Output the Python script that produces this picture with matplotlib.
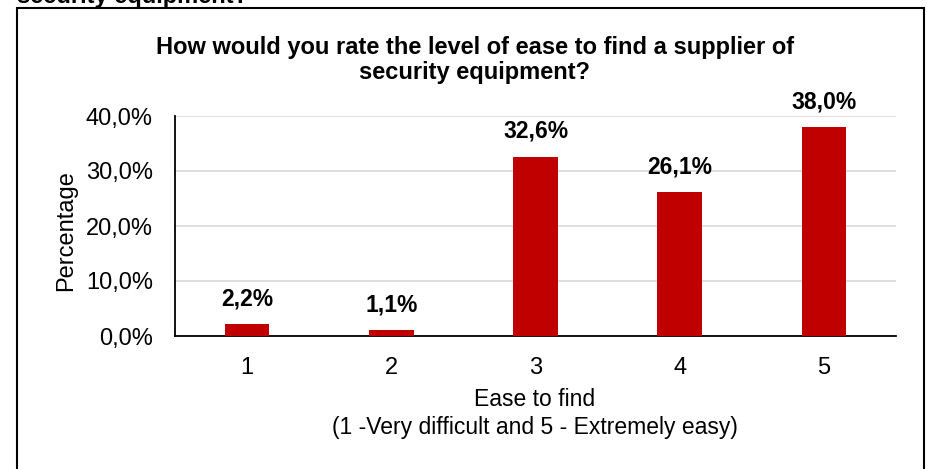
import matplotlib.pyplot as plt
from matplotlib.patches import Rectangle
from matplotlib.ticker import FuncFormatter

plt.rcParams['font.family'] = ['Liberation Sans', 'DejaVu Sans']

categories = ['1', '2', '3', '4', '5']
percentages = [2.2, 1.1, 32.6, 26.1, 38.0]
bar_color = '#C00000'

fig = plt.figure(figsize=(9.28, 4.69), dpi=100)
W, H = 928, 469
ax = fig.add_axes([175 / W, 1 - 336 / H, (896 - 175) / W, (336 - 116) / H])

x = range(len(categories))
ax.bar(x, percentages, width=0.31, color=bar_color, zorder=3)
for xi, v in zip(x, percentages):
    ax.text(xi, v + 2.5, f'{v:.1f}%'.replace('.', ','), ha='center', va='bottom',
            fontsize=16.5, fontweight='bold')

ax.set_xlim(-0.5, len(categories) - 0.5)
ax.set_ylim(0, 40)
ax.set_yticks([0, 10, 20, 30, 40])
ax.yaxis.set_major_formatter(FuncFormatter(lambda v, p: f'{v:.1f}%'.replace('.', ',')))
ax.set_xticks(list(x))
ax.set_xticklabels(categories)
ax.tick_params(axis='both', length=0, labelsize=17)
ax.tick_params(axis='x', pad=15)
ax.tick_params(axis='y', pad=16)
ax.grid(axis='y', color='#d9d9d9', linewidth=1.2, zorder=0)
for s in ['top', 'right']:
    ax.spines[s].set_visible(False)
ax.spines['left'].set_linewidth(1.3)
ax.spines['bottom'].set_linewidth(1.3)

ax.set_ylabel('Percentage', fontsize=17)
ax.yaxis.set_label_coords((77 - 175) / 721, 0.48)
ax.set_xlabel('Ease to find\n(1 -Very difficult and 5 - Extremely easy)', fontsize=16.5,
              linespacing=1.3)
ax.xaxis.set_label_coords((535 - 175) / 721, (336 - 388) / 220)

fig.text(475 / W, 1 - 60 / H,
         'How would you rate the level of ease to find a supplier of\nsecurity equipment?',
         ha='center', va='center', fontsize=17, fontweight='bold', linespacing=1.15)

# clipped caption text at the top edge
fig.text(17 / W, 1 - 3 / H, 'security equipment?', ha='left', va='baseline',
         fontsize=17, fontweight='bold')

fig.patches.append(Rectangle((17 / W, -0.05), (924 - 17) / W, 1 - 8 / H + 0.05,
                             transform=fig.transFigure, fill=False,
                             edgecolor='black', linewidth=1.5))

fig.savefig('out.png', dpi=100)
